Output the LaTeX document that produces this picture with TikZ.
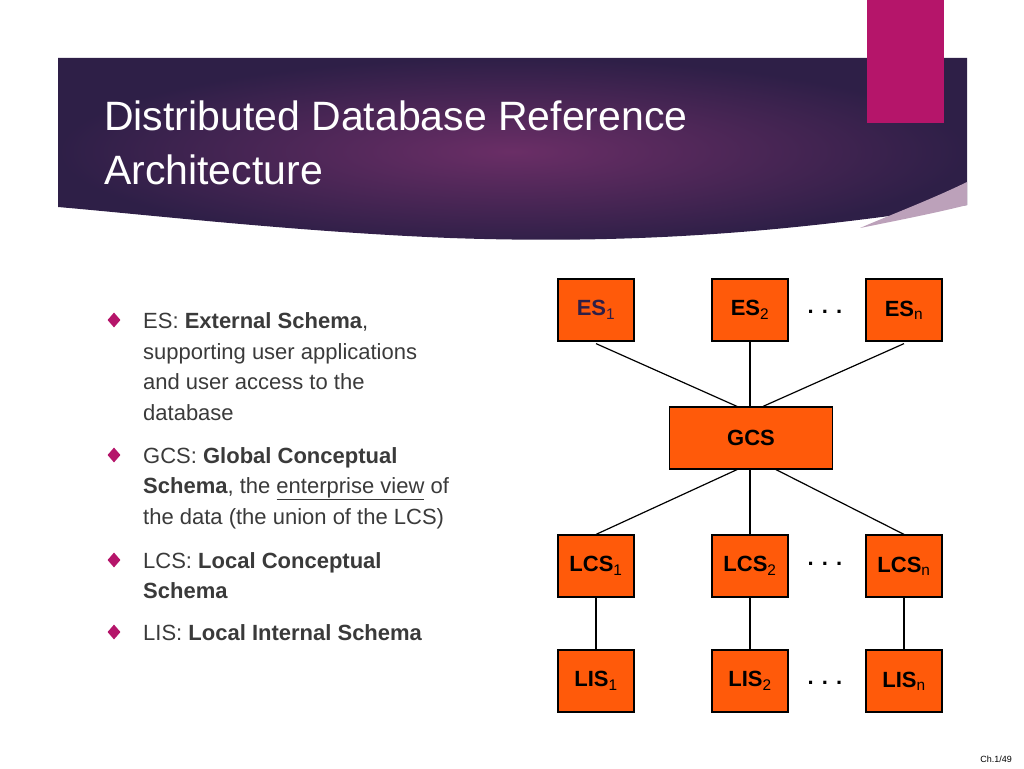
\documentclass[tikz,border=0pt]{standalone}
\usepackage{fontspec}
\setmainfont{Liberation Sans}
\usetikzlibrary{calc,shapes.geometric}
\definecolor{boxor}{HTML}{FF5A0A}
\definecolor{txtg}{HTML}{3A3A3A}
\definecolor{pink}{HTML}{B5156A}
\definecolor{purpD}{HTML}{2E1F47}
\definecolor{purpM}{HTML}{6A2E66}
\begin{document}
\begin{tikzpicture}[x=1pt,y=-1pt,
  box/.style={draw=black,line width=1.2pt,fill=boxor,inner sep=0pt,font=\fontsize{22}{24}\selectfont\bfseries},
  link/.style={line width=1.2pt},
  bl/.style={anchor=base west,inner sep=0pt,text=txtg,font=\fontsize{22}{24}\selectfont},
  bmark/.style={diamond,fill=pink,inner sep=0pt,minimum width=13pt,minimum height=15pt},
  dots/.style={font=\fontsize{22}{24}\selectfont\bfseries,inner sep=0pt}]
\useasboundingbox (0,0) rectangle (1024,768);
% header band
\shade[inner color=purpM,outer color=purpD] (58,58) -- (967,58) -- (967,205)
  .. controls (800,230) and (650,245) .. (450,238) .. controls (300,232) and (150,215) .. (58,207) -- cycle;
\fill[white!55!purpM] (967,182) .. controls (930,200) and (890,215) .. (860,228) .. controls (900,220) and (940,212) .. (967,205) -- cycle;
\fill[pink] (867,0) rectangle (944,123);
\node[anchor=base west,inner sep=0pt,text=white,font=\fontsize{41}{44}\selectfont] (t1) at (104,130) {Distributed Database Reference};
\node[anchor=base west,inner sep=0pt,text=white,font=\fontsize{41}{44}\selectfont] (t2) at (104,184) {Architecture};
% bullets
\node[bmark] (m1) at (114,320) {};
\node[bmark] (m2) at (114,455) {};
\node[bmark] (m3) at (114,560) {};
\node[bmark] (m4) at (114,632) {};
\node[bl] (a1) at (143,328) {ES: \textbf{External Schema},};
\node[bl] (a2) at (143,359) {supporting user applications};
\node[bl] (a3) at (143,389) {and user access to the};
\node[bl] (a4) at (143,420) {database};
\node[bl] (b1) at (143,463) {GCS: \textbf{Global Conceptual}};
\node[bl] (b2) at (143,493) {\textbf{Schema}, the \underline{enterprise view} of};
\node[bl] (b3) at (143,524) {the data (the union of the LCS)};
\node[bl] (c1) at (143,568) {LCS: \textbf{Local Conceptual}};
\node[bl] (c2) at (143,598) {\textbf{Schema}};
\node[bl] (d1) at (143,640) {LIS: \textbf{Local Internal Schema}};
% boxes
\node[box,minimum width=76pt,minimum height=62pt] (es1) at (596,310) {\textcolor{purpD}{ES$_{\mathrm{1}}$}};
\node[box,minimum width=76pt,minimum height=62pt] (es2) at (750,310) {ES$_{\mathrm{2}}$};
\node[box,minimum width=76pt,minimum height=62pt] (esn) at (904,310) {ES$_{\mathrm{n}}$};
\node[box,minimum width=163pt,minimum height=62pt] (gcs) at (751,438) {GCS};
\node[box,minimum width=76pt,minimum height=62pt] (lcs1) at (596,566) {LCS$_{\mathrm{1}}$};
\node[box,minimum width=76pt,minimum height=62pt] (lcs2) at (750,566) {LCS$_{\mathrm{2}}$};
\node[box,minimum width=76pt,minimum height=62pt] (lcsn) at (904,566) {LCS$_{\mathrm{n}}$};
\node[box,minimum width=76pt,minimum height=62pt] (lis1) at (596,681) {LIS$_{\mathrm{1}}$};
\node[box,minimum width=76pt,minimum height=62pt] (lis2) at (750,681) {LIS$_{\mathrm{2}}$};
\node[box,minimum width=76pt,minimum height=62pt] (lisn) at (904,681) {LIS$_{\mathrm{n}}$};
\node[dots] (d1x) at (825,312) {. . .};
\node[dots] (d2x) at (825,564) {. . .};
\node[dots] (d3x) at (825,683) {. . .};
% links
\draw[link] ($(es1.south)+(0,2)$) -- ($(gcs.north)+(-14,0)$);
\draw[link] (es2.south) -- (gcs.north -| es2.south);
\draw[link] ($(esn.south)+(0,2)$) -- ($(gcs.north)+(12,0)$);
\draw[link] ($(gcs.south)+(-14,0)$) -- (lcs1.north);
\draw[link] (gcs.south -| lcs2.north) -- (lcs2.north);
\draw[link] ($(gcs.south)+(25,0)$) -- (lcsn.north);
\draw[link] (lcs1) -- (lis1);
\draw[link] (lcs2) -- (lis2);
\draw[link] (lcsn) -- (lisn);
\node[anchor=base east,inner sep=0pt,font=\fontsize{9}{10}\selectfont] (ft) at (1012,762) {Ch.1/49};
\end{tikzpicture}
\end{document}
